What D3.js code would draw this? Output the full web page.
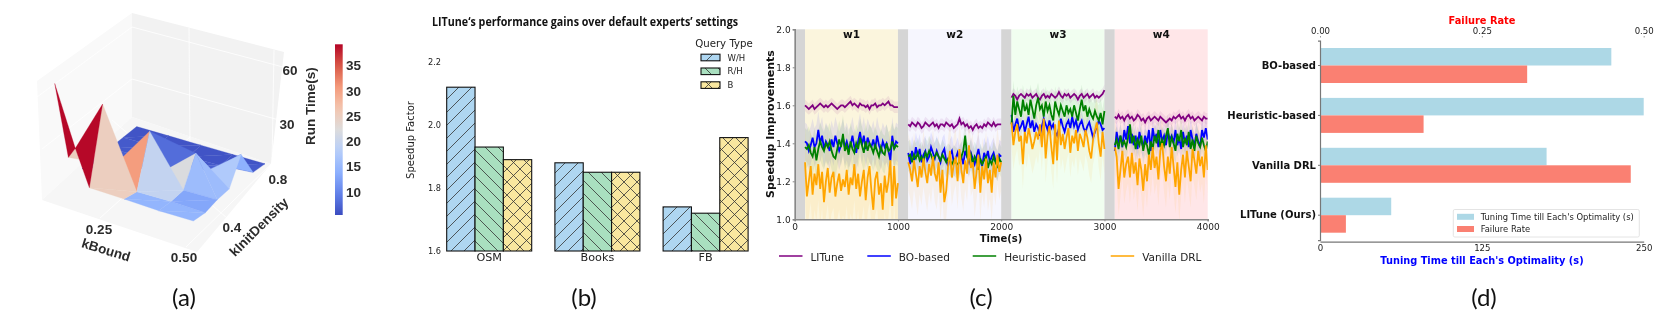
<!DOCTYPE html>
<html>
<head>
<meta charset="utf-8">
<script src="https://cdn.jsdelivr.net/npm/d3@7"></script>
<style>
  html, body { margin: 0; padding: 0; background: #fff; }
  svg { display: block; filter: blur(0.4px); }
  text { font-family: "DejaVu Sans", sans-serif; fill: #222; }
</style>
</head>
<body>
<svg id="chart" width="1661" height="328"></svg>
<script>
/* (a) surface: grid of run times, rows are kInitDensity, columns are kBound */
const kBoundLevels = [0.1, 0.2, 0.3, 0.4, 0.5];
const densityLevels = [0.2, 0.3, 0.4, 0.5, 0.6, 0.7, 0.8];
const runTime = [
  [67.6, 14.8, 14.6, 14.2, 14.6],
  [19.5, 55.8, 12.2, 12.7, 12.5],
  [7, 15.6, 40, 12.5, 13],
  [7, 8, 10.5, 26.7, 12.2],
  [6, 7, 8, 10.5, 25],
  [6, 6.5, 6, 6.5, 8],
  [6, 6, 6, 6, 6]
];
// two extra samples of the triangulation, [kBound, density, run time]
const extraPoints = { 90: [0.14, 0.25, 30.2], 91: [0.152, 0.25, 24.7] };
// facets back to front: three vertex ids (column * 10 + row) and the colour value
const facets = [
  [5, 6, 16, 6], [5, 15, 16, 6], [15, 16, 26, 6], [15, 25, 26, 6], [25, 26, 36, 6], [25, 35, 36, 6], [35, 36, 46, 6], [35, 45, 46, 6.5],
  [4, 5, 15, 6.5], [4, 14, 15, 6.5], [14, 15, 25, 6.5], [14, 24, 25, 7], [24, 25, 35, 6.5], [24, 34, 35, 7],
  [3, 4, 14, 7], [3, 13, 14, 7], [13, 14, 24, 8], [13, 23, 24, 8], [2, 3, 13, 7], [2, 12, 13, 7], [12, 13, 23, 6.5], [12, 22, 23, 6.5],
  [22, 23, 33, 8], [23, 24, 33, 8], [24, 33, 34, 9], [34, 35, 44, 8], [35, 44, 45, 14], [34, 43, 44, 17.5], [33, 34, 43, 17.5],
  [33, 32, 23, 22], [33, 32, 42, 15.5], [33, 42, 43, 15.5],
  [20, 21, 31, 14.5], [20, 30, 31, 14.5], [30, 31, 41, 14.5], [30, 40, 41, 14.5], [31, 32, 42, 13], [31, 41, 42, 13],
  [22, 21, 12, 30.5], [22, 21, 32, 19.5], [21, 31, 32, 19.5],
  [11, 10, 21, 25], [10, 20, 21, 25],
  [1, 90, 91, 25], [0, 1, 90, 39], [90, 11, 10, 39]
];
const colorbarTicks = [10, 15, 20, 25, 30, 35];

/* (b) grouped bars */
const datasets = ['OSM', 'Books', 'FB'];
const queryTypes = ['W/H', 'R/H', 'B'];
const speedupWH = [2.12, 1.88, 1.74];
const speedupRH = [1.93, 1.85, 1.72];
const speedupB = [1.89, 1.85, 1.96];
const speedupTicks = [1.6, 1.8, 2.0, 2.2];

/* (c) speedup lines, one array per workload */
const workloads = ['w1', 'w2', 'w3', 'w4'];
const workloadStart = [100, 1100, 2100, 3100];
const methods = ['LITune', 'BO-based', 'Heuristic-based', 'Vanilla DRL'];
const lituneRuns = [
  [1.60,1.59,1.58,1.59,1.60,1.58,1.59,1.60,1.61,1.60,1.59,1.60,1.59,1.60,1.61,1.60,1.59,1.58,1.59,1.60,1.60,1.59,1.60,1.61,1.62,1.60,1.61,1.60,1.59,1.61,1.60,1.60,1.59,1.60,1.58,1.60,1.60,1.61,1.59,1.60,1.60,1.61,1.60,1.61,1.62,1.60,1.60,1.59,1.59,1.59],
  [1.50,1.49,1.51,1.50,1.49,1.51,1.50,1.48,1.49,1.51,1.50,1.49,1.50,1.51,1.49,1.50,1.48,1.50,1.50,1.49,1.51,1.50,1.49,1.50,1.48,1.49,1.50,1.53,1.50,1.51,1.49,1.50,1.48,1.49,1.47,1.49,1.50,1.48,1.49,1.48,1.50,1.49,1.51,1.50,1.49,1.51,1.49,1.50,1.50,1.50],
  [1.64,1.66,1.65,1.63,1.65,1.66,1.65,1.64,1.66,1.65,1.66,1.64,1.65,1.66,1.64,1.63,1.65,1.66,1.64,1.65,1.64,1.66,1.65,1.64,1.65,1.67,1.65,1.64,1.66,1.65,1.66,1.64,1.65,1.66,1.65,1.63,1.65,1.66,1.64,1.65,1.66,1.64,1.65,1.66,1.64,1.65,1.64,1.65,1.66,1.68],
  [1.54,1.53,1.55,1.53,1.54,1.52,1.54,1.55,1.53,1.54,1.52,1.53,1.55,1.54,1.52,1.53,1.51,1.53,1.54,1.52,1.53,1.54,1.53,1.52,1.54,1.53,1.52,1.51,1.52,1.53,1.52,1.54,1.53,1.54,1.55,1.53,1.54,1.52,1.54,1.55,1.53,1.54,1.52,1.53,1.54,1.53,1.52,1.54,1.53,1.53]
];
const boRuns = [
  [1.41,1.40,1.36,1.39,1.43,1.38,1.40,1.47,1.40,1.44,1.37,1.41,1.39,1.36,1.42,1.38,1.44,1.40,1.36,1.39,1.43,1.38,1.41,1.37,1.39,1.44,1.38,1.35,1.41,1.46,1.39,1.44,1.37,1.43,1.40,1.38,1.42,1.37,1.44,1.39,1.36,1.41,1.38,1.40,1.36,1.31,1.44,1.37,1.41,1.40],
  [1.35,1.29,1.36,1.31,1.38,1.33,1.37,1.30,1.34,1.36,1.31,1.33,1.38,1.35,1.32,1.36,1.33,1.30,1.35,1.37,1.31,1.28,1.34,1.36,1.30,1.32,1.35,1.31,1.33,1.29,1.36,1.33,1.30,1.35,1.32,1.29,1.33,1.37,1.31,1.28,1.35,1.32,1.36,1.30,1.33,1.35,1.31,1.28,1.34,1.33],
  [1.55,1.46,1.50,1.53,1.47,1.49,1.52,1.46,1.50,1.54,1.48,1.52,1.46,1.50,1.48,1.44,1.49,1.53,1.50,1.47,1.52,1.48,1.50,1.46,1.44,1.48,1.53,1.49,1.46,1.50,1.52,1.48,1.54,1.49,1.52,1.47,1.50,1.52,1.48,1.46,1.49,1.51,1.47,1.43,1.46,1.49,1.52,1.50,1.47,1.48],
  [1.36,1.46,1.40,1.44,1.38,1.47,1.42,1.49,1.40,1.45,1.39,1.44,1.37,1.46,1.41,1.38,1.44,1.40,1.47,1.36,1.48,1.42,1.45,1.38,1.47,1.41,1.44,1.39,1.46,1.42,1.44,1.40,1.47,1.39,1.43,1.37,1.46,1.40,1.44,1.38,1.47,1.42,1.39,1.45,1.41,1.38,1.47,1.43,1.48,1.42]
];
const heuristicRuns = [
  [1.38,1.37,1.39,1.35,1.33,1.38,1.31,1.37,1.41,1.38,1.36,1.40,1.38,1.41,1.36,1.33,1.32,1.37,1.42,1.38,1.45,1.36,1.39,1.34,1.41,1.37,1.35,1.40,1.37,1.43,1.39,1.35,1.41,1.36,1.40,1.38,1.35,1.39,1.36,1.33,1.38,1.35,1.34,1.40,1.36,1.37,1.41,1.37,1.39,1.38],
  [1.33,1.34,1.30,1.34,1.32,1.35,1.31,1.33,1.30,1.35,1.33,1.36,1.34,1.31,1.33,1.35,1.33,1.31,1.34,1.32,1.30,1.32,1.31,1.29,1.31,1.30,1.29,1.30,1.33,1.36,1.44,1.33,1.31,1.34,1.29,1.33,1.31,1.26,1.32,1.29,1.31,1.33,1.27,1.31,1.29,1.33,1.30,1.28,1.32,1.30],
  [1.50,1.65,1.55,1.62,1.58,1.54,1.63,1.57,1.60,1.55,1.63,1.58,1.53,1.60,1.64,1.58,1.60,1.54,1.62,1.57,1.60,1.55,1.52,1.62,1.58,1.55,1.60,1.57,1.54,1.60,1.56,1.58,1.54,1.60,1.56,1.52,1.58,1.63,1.57,1.60,1.54,1.58,1.55,1.53,1.57,1.54,1.52,1.56,1.50,1.57],
  [1.39,1.42,1.37,1.44,1.39,1.41,1.38,1.43,1.50,1.40,1.44,1.37,1.42,1.39,1.44,1.36,1.41,1.39,1.34,1.41,1.37,1.44,1.40,1.47,1.38,1.42,1.39,1.44,1.48,1.38,1.43,1.40,1.36,1.45,1.41,1.47,1.38,1.43,1.39,1.46,1.37,1.42,1.36,1.44,1.40,1.38,1.43,1.39,1.36,1.41]
];
const vanillaRuns = [
  [1.30,1.12,1.20,1.28,1.13,1.24,1.18,1.29,1.16,1.25,1.09,1.20,1.27,1.14,1.22,1.25,1.12,1.19,1.24,1.15,1.21,1.17,1.26,1.13,1.22,1.18,1.29,1.16,1.24,1.12,1.20,1.26,1.10,1.22,1.28,1.15,1.05,1.21,1.25,1.13,1.19,1.05,1.23,1.14,1.20,1.31,1.07,1.28,1.11,1.19],
  [1.30,1.26,1.20,1.31,1.24,1.17,1.28,1.22,1.32,1.25,1.19,1.29,1.23,1.33,1.24,1.20,1.30,1.14,1.26,1.09,1.15,1.28,1.36,1.22,1.29,1.33,1.20,1.37,1.26,1.19,1.31,1.24,1.39,1.27,1.30,1.16,1.25,1.34,1.14,1.28,1.21,1.32,1.19,1.26,1.14,1.30,1.22,1.34,1.25,1.30],
  [1.51,1.39,1.46,1.50,1.41,1.44,1.29,1.46,1.40,1.48,1.43,1.37,1.41,1.46,1.42,1.50,1.38,1.53,1.32,1.44,1.49,1.38,1.29,1.50,1.31,1.52,1.39,1.45,1.37,1.43,1.48,1.35,1.44,1.40,1.47,1.36,1.45,1.42,1.38,1.47,1.43,1.36,1.32,1.42,1.47,1.51,1.40,1.33,1.46,1.37],
  [1.38,1.33,1.16,1.26,1.36,1.22,1.29,1.33,1.22,1.35,1.24,1.30,1.18,1.32,1.26,1.15,1.29,1.20,1.34,1.26,1.38,1.27,1.33,1.21,1.36,1.40,1.28,1.20,1.33,1.24,1.38,1.28,1.17,1.30,1.13,1.26,1.34,1.22,1.36,1.28,1.20,1.37,1.31,1.24,1.36,1.28,1.33,1.22,1.39,1.26]
];
// half width of the shaded band, per method and workload
const bandHalfWidth = [
  [0.03, 0.03, 0.03, 0.03],
  [0.10, 0.08, 0.05, 0.06],
  [0.10, 0.08, 0.08, 0.07],
  [0.19, 0.15, 0.13, 0.14]
];

/* (d) horizontal bars */
const approaches = ['BO-based', 'Heuristic-based', 'Vanilla DRL', 'LITune (Ours)'];
const tuningTime = [225, 250, 175, 55];
const failureRate = [0.32, 0.16, 0.48, 0.04];

(function () {
  'use strict';
  const svg = d3.select('#chart');
  const defs = svg.append('defs');

  _surfacePanel();
  _barPanel();
  _linePanel();
  _failurePanel();
  _captions();

  function _label(g, text, x, y, size, opts) {
    opts = opts || {};
    const t = g.append('text')
      .attr('x', x)
      .attr('y', y)
      .attr('font-size', size)
      .attr('text-anchor', opts.anchor || 'middle')
      .attr('dominant-baseline', 'central')
      .text(text);
    if (opts.weight) t.attr('font-weight', opts.weight);
    if (opts.family) t.style('font-family', opts.family);
    if (opts.fill) t.style('fill', opts.fill);
    if (opts.rotate) t.attr('transform', 'rotate(' + opts.rotate + ' ' + x + ' ' + y + ')');
    return t;
  }

  function _surfacePanel() {
    const g = svg.append('g');
    const sans = '"Liberation Sans", sans-serif';

    // the 3d box is not data: walls, floor and their white grid lines
    const walls = [
      { fill: '#f9f9f9', pts: [[37, 81], [132, 13], [132, 117], [42, 200]] },
      { fill: '#f2f2f2', pts: [[132, 13], [284, 52], [271, 164], [132, 117]] },
      { fill: '#f6f6f6', pts: [[42, 200], [132, 117], [271, 164], [197, 252]] }
    ];
    g.selectAll('.wall').data(walls).enter().append('polygon')
      .attr('points', function (d) { return d.pts.join(' '); })
      .attr('fill', function (d) { return d.fill; });
    const gridLines = [
      [[132, 27], [283, 67]], [[132, 79], [279, 120]], [[37, 97], [132, 27]], [[42, 149], [132, 79]],
      [[189, 28], [190, 146]], [[274, 50], [272, 163]], [[100, 218], [190, 137]], [[186, 247], [272, 163]],
      [[227, 218], [112, 120]]
    ];
    g.selectAll('.grid3d').data(gridLines).enter().append('line')
      .attr('x1', function (d) { return d[0][0]; })
      .attr('y1', function (d) { return d[0][1]; })
      .attr('x2', function (d) { return d[1][0]; })
      .attr('y2', function (d) { return d[1][1]; })
      .attr('stroke', '#fff')
      .attr('stroke-width', 0.8);

    // bilinear floor plus a vertical run time scale
    const uScale = d3.scaleLinear().domain([0.1, 0.5]).range([0, 1]);
    const vScale = d3.scaleLinear().domain([0.2, 0.8]).range([0, 1]);
    const zScale = d3.scaleLinear().domain([5, 65]).range([0, -106]);
    function project(k, dens, z) {
      const u = uScale(k);
      const v = vScale(dens);
      const x = (1 - v) * (54.7 + 138.7 * u) + v * (136.7 + 128.3 * u);
      const y = (1 - v) * (194 + 44 * u) + v * (128.3 + 37.3 * u);
      return [x, y + zScale(z)];
    }
    function vertex(id) {
      if (extraPoints[id]) return project.apply(null, extraPoints[id]);
      const col = Math.floor(id / 10);
      const row = id % 10;
      return project(kBoundLevels[col], densityLevels[row], runTime[row][col]);
    }

    const coolwarm = d3.scaleSequential(
      d3.piecewise(d3.interpolateRgb, ['#3b4cc0', '#6282ea', '#8db0fe', '#b6cefa', '#dddcdc', '#f4c6af', '#f49a7b', '#d95847', '#b40426'])
    ).domain([5.4, 39.2]);

    g.selectAll('.facet').data(facets).enter().append('polygon')
      .attr('points', function (d) { return [vertex(d[0]), vertex(d[1]), vertex(d[2])].join(' '); })
      .attr('fill', function (d) { return coolwarm(d[3]); })
      .attr('stroke', function (d) { return coolwarm(d[3]); })
      .attr('stroke-width', 0.3);

    // colorbar
    const barScale = d3.scaleLinear().domain([5.4, 39.2]).range([215, 44.3]);
    const grad = defs.append('linearGradient')
      .attr('id', 'coolwarmGrad')
      .attr('x1', 0).attr('y1', 1).attr('x2', 0).attr('y2', 0);
    d3.range(0, 1.001, 0.05).forEach(function (t) {
      grad.append('stop')
        .attr('offset', t)
        .attr('stop-color', coolwarm(5.4 + t * (39.2 - 5.4)));
    });
    g.append('rect')
      .attr('x', 335).attr('y', 44.3)
      .attr('width', 7.7).attr('height', 170.7)
      .attr('fill', 'url(#coolwarmGrad)');
    const barAxis = g.append('g')
      .attr('transform', 'translate(343,0)')
      .call(d3.axisRight(barScale).tickValues(colorbarTicks).tickSize(0).tickPadding(3));
    barAxis.select('.domain').remove();
    barAxis.selectAll('text')
      .attr('font-size', 13.5).attr('font-weight', 700)
      .style('font-family', sans).style('fill', '#2b2b2b');

    const tick3d = [
      ['60', 290, 70], ['30', 287, 124], ['0.25', 99, 229], ['0.50', 184, 257], ['0.4', 232, 227], ['0.8', 278, 179]
    ];
    tick3d.forEach(function (d) {
      _label(g, d[0], d[1], d[2], 13.5, { weight: 700, family: sans, fill: '#2b2b2b' });
    });
    _label(g, 'Run Time(s)', 310, 106, 13.5, { weight: 700, family: sans, fill: '#2b2b2b', rotate: -90 });
    _label(g, 'kBound', 106, 250, 13.5, { weight: 700, family: sans, fill: '#2b2b2b', rotate: 17 });
    _label(g, 'kInitDensity', 259, 227, 13.5, { weight: 700, family: sans, fill: '#2b2b2b', rotate: -45 });
  }

  function _hatch(id, fill, paths) {
    const p = defs.append('pattern')
      .attr('id', id)
      .attr('patternUnits', 'userSpaceOnUse')
      .attr('width', 13)
      .attr('height', 13);
    p.append('rect').attr('width', 13).attr('height', 13).attr('fill', fill);
    paths.forEach(function (d) {
      p.append('path').attr('d', d).attr('stroke', '#333').attr('stroke-width', 0.8).attr('fill', 'none');
    });
  }

  function _barPanel() {
    const g = svg.append('g');
    const forward = 'M-2,2 L2,-2 M0,13 L13,0 M11,15 L15,11';
    const backward = 'M-2,11 L2,15 M0,0 L13,13 M11,-2 L15,2';
    _hatch('hatchWH', '#aed6f1', [forward]);
    _hatch('hatchRH', '#a9dfbf', [backward]);
    _hatch('hatchB', '#f9e79f', [forward, backward]);
    const fills = ['url(#hatchWH)', 'url(#hatchRH)', 'url(#hatchB)'];
    const seriesValues = [speedupWH, speedupRH, speedupB];

    const x = d3.scaleBand().domain(datasets).range([435.1, 759.7]).paddingInner(0.2144).paddingOuter(0.1072);
    const inner = d3.scaleBand().domain(d3.range(3)).range([0, x.bandwidth()]);
    const y = d3.scaleLinear().domain([1.6, 2.2]).range([251, 62]);

    datasets.forEach(function (name, i) {
      g.selectAll('.bar-' + name).data(seriesValues).enter().append('rect')
        .attr('x', function (d, s) { return x(name) + inner(s); })
        .attr('y', function (d) { return y(d[i]); })
        .attr('width', inner.bandwidth())
        .attr('height', function (d) { return y(1.6) - y(d[i]); })
        .attr('fill', function (d, s) { return fills[s]; })
        .attr('stroke', '#111')
        .attr('stroke-width', 1.1);
    });

    const yAxis = g.append('g')
      .attr('transform', 'translate(446,0)')
      .call(d3.axisLeft(y).tickValues(speedupTicks).tickFormat(d3.format('.1f')).tickSize(0).tickPadding(5));
    yAxis.select('.domain').remove();
    yAxis.selectAll('text').attr('font-size', 8.2);

    const xAxis = g.append('g')
      .attr('transform', 'translate(0,251)')
      .call(d3.axisBottom(x).tickSize(0).tickPadding(2));
    xAxis.select('.domain').remove();
    xAxis.selectAll('text').attr('font-size', 11.2);

    _label(g, 'Speedup Factor', 410, 140, 10, { rotate: -90 });
    _label(g, 'LITune‘s performance gains over default experts’ settings', 585, 21, 12, {
      weight: 700, family: '"Open Sans", sans-serif', fill: '#111'
    }).attr('textLength', 306).attr('lengthAdjust', 'spacingAndGlyphs');

    _label(g, 'Query Type', 724, 43, 10.2);
    queryTypes.forEach(function (name, i) {
      const rowY = 57.5 + i * 13.8;
      g.append('rect')
        .attr('x', 701).attr('y', rowY - 3.3)
        .attr('width', 19).attr('height', 6.6)
        .attr('fill', fills[i])
        .attr('stroke', '#111').attr('stroke-width', 1.1);
      _label(g, name, 727.5, rowY, 8.5, { anchor: 'start' });
    });
  }

  function _linePanel() {
    const g = svg.append('g');
    const x = d3.scaleLinear().domain([0, 4000]).range([794.7, 1207.7]);
    const y = d3.scaleLinear().domain([1, 2]).range([219.3, 29.3]);
    const spanFill = ['#fbf5dd', '#f6f6fe', '#f1fef0', '#ffe6e8'];
    const lineColor = ['#800080', '#0000ff', '#008000', '#ffa500'];
    const allRuns = [lituneRuns, boRuns, heuristicRuns, vanillaRuns];

    workloads.forEach(function (name, i) {
      const start = workloadStart[i];
      g.append('rect')
        .attr('x', x(start - 100)).attr('y', y(2))
        .attr('width', x(start) - x(start - 100))
        .attr('height', y(1) - y(2))
        .attr('fill', '#d5d5d5');
      g.append('rect')
        .attr('x', x(start)).attr('y', y(2))
        .attr('width', x(start + 900) - x(start))
        .attr('height', y(1) - y(2))
        .attr('fill', spanFill[i]);
      _label(g, name, x(start + 450), 33.5, 10.5, { weight: 700, fill: '#111' });
    });

    const clip = defs.append('clipPath').attr('id', 'lineClip');
    clip.append('rect').attr('x', x(0)).attr('y', y(2)).attr('width', x(4000) - x(0)).attr('height', y(1) - y(2));
    const plot = g.append('g').attr('clip-path', 'url(#lineClip)');

    allRuns.forEach(function (runs, m) {
      runs.forEach(function (values, w) {
        const at = function (d, i) { return x(workloadStart[w] + i * 900 / (values.length - 1)); };
        const half = bandHalfWidth[m][w];
        plot.append('path')
          .attr('d', d3.area().x(at).y0(function (d) { return y(d - half); }).y1(function (d) { return y(d + half); })(values))
          .attr('fill', lineColor[m])
          .attr('opacity', 0.08);
      });
    });
    allRuns.forEach(function (runs, m) {
      runs.forEach(function (values, w) {
        const at = function (d, i) { return x(workloadStart[w] + i * 900 / (values.length - 1)); };
        plot.append('path')
          .attr('d', d3.line().x(at).y(function (d) { return y(d); })(values))
          .attr('fill', 'none')
          .attr('stroke', lineColor[m])
          .attr('stroke-width', 1.8);
      });
    });

    const xAxis = g.append('g')
      .attr('transform', 'translate(0,219.3)')
      .call(d3.axisBottom(x).tickValues([0, 1000, 2000, 3000, 4000]).tickSize(2).tickPadding(2).tickFormat(d3.format('d')));
    const yAxis = g.append('g')
      .attr('transform', 'translate(794.7,0)')
      .call(d3.axisLeft(y).tickValues([1, 1.2, 1.4, 1.6, 1.8, 2]).tickSize(2).tickPadding(2).tickFormat(d3.format('.1f')));
    [xAxis, yAxis].forEach(function (a) {
      a.select('.domain').attr('stroke', '#888').attr('stroke-width', 1.6);
      a.selectAll('.tick line').attr('stroke', '#888');
      a.selectAll('text').attr('font-size', 9);
    });

    _label(g, 'Speedup Improvements', 770, 124, 11, { weight: 700, rotate: -90, fill: '#111' });
    _label(g, 'Time(s)', 1001, 238.5, 10, { weight: 700, fill: '#111' });

    const legendX = [779, 867.3, 972.7, 1110.7];
    methods.forEach(function (name, i) {
      g.append('line')
        .attr('x1', legendX[i]).attr('x2', legendX[i] + 23.5)
        .attr('y1', 256).attr('y2', 256)
        .attr('stroke', lineColor[i]).attr('stroke-width', 1.5);
      _label(g, name, legendX[i] + 31.5, 256.5, 10.5, { anchor: 'start' });
    });
  }

  function _failurePanel() {
    const g = svg.append('g');
    const xTime = d3.scaleLinear().domain([0, 250]).range([1320, 1643.7]);
    const xRate = d3.scaleLinear().domain([0, 0.5]).range([1320, 1643.7]);
    const y = d3.scaleBand().domain(approaches).range([40.55, 240.15]).paddingInner(0.2986).paddingOuter(0.1493);

    g.selectAll('.time-bar').data(approaches).enter().append('rect')
      .attr('x', xTime(0))
      .attr('y', function (d) { return y(d); })
      .attr('width', function (d, i) { return xTime(tuningTime[i]) - xTime(0); })
      .attr('height', y.bandwidth() / 2)
      .attr('fill', '#add8e6');
    g.selectAll('.rate-bar').data(approaches).enter().append('rect')
      .attr('x', xRate(0))
      .attr('y', function (d) { return y(d) + y.bandwidth() / 2; })
      .attr('width', function (d, i) { return xRate(failureRate[i]) - xRate(0); })
      .attr('height', y.bandwidth() / 2)
      .attr('fill', '#fa8072');

    const bottom = g.append('g')
      .attr('transform', 'translate(0,241.7)')
      .call(d3.axisBottom(xTime).tickValues([0, 125, 250]).tickSize(0).tickPadding(3));
    const top = g.append('g')
      .attr('transform', 'translate(0,37.5)')
      .call(d3.axisTop(xRate).tickValues([0, 0.25, 0.5]).tickFormat(d3.format('.2f')).tickSize(1.5).tickPadding(2));
    const left = g.append('g')
      .attr('transform', 'translate(1320,0)')
      .call(d3.axisLeft(y).tickSize(2).tickPadding(2));
    top.select('.domain').remove();
    bottom.select('.domain').attr('stroke', '#777').attr('stroke-width', 1.2);
    left.select('.domain').attr('stroke', '#777').attr('stroke-width', 1.2);
    top.selectAll('.tick line').attr('stroke', '#999');
    left.selectAll('.tick line').attr('stroke', '#777');
    [top, bottom].forEach(function (a) { a.selectAll('text').attr('font-size', 8.6); });
    left.selectAll('text').attr('font-size', 10).attr('font-weight', 700).style('fill', '#111');

    _label(g, 'Failure Rate', 1482, 20.5, 9.8, { weight: 700, fill: '#ff0000' });
    _label(g, "Tuning Time till Each's Optimality (s)", 1482, 260.5, 9.8, { weight: 700, fill: '#0000ff' });

    g.append('rect')
      .attr('x', 1453.3).attr('y', 209.5)
      .attr('width', 186).attr('height', 27.5)
      .attr('rx', 1.5)
      .attr('fill', '#fff').attr('fill-opacity', 0.85)
      .attr('stroke', '#ddd').attr('stroke-width', 0.8);
    [["Tuning Time till Each's Optimality (s)", '#add8e6', 216.8], ['Failure Rate', '#fa8072', 229]].forEach(function (d) {
      g.append('rect')
        .attr('x', 1457).attr('y', d[2] - 3)
        .attr('width', 17).attr('height', 6)
        .attr('fill', d[1]);
      _label(g, d[0], 1480.7, d[2], 8.4, { anchor: 'start' });
    });
  }

  function _captions() {
    [['(a)', 184, 296], ['(b)', 584, 296], ['(c)', 981, 296], ['(d)', 1484, 296]].forEach(function (d) {
      _label(svg, d[0], d[1], d[2], 24, { family: 'Lato, sans-serif', fill: '#111' });
    });
  }
}());
</script>
</body>
</html>
